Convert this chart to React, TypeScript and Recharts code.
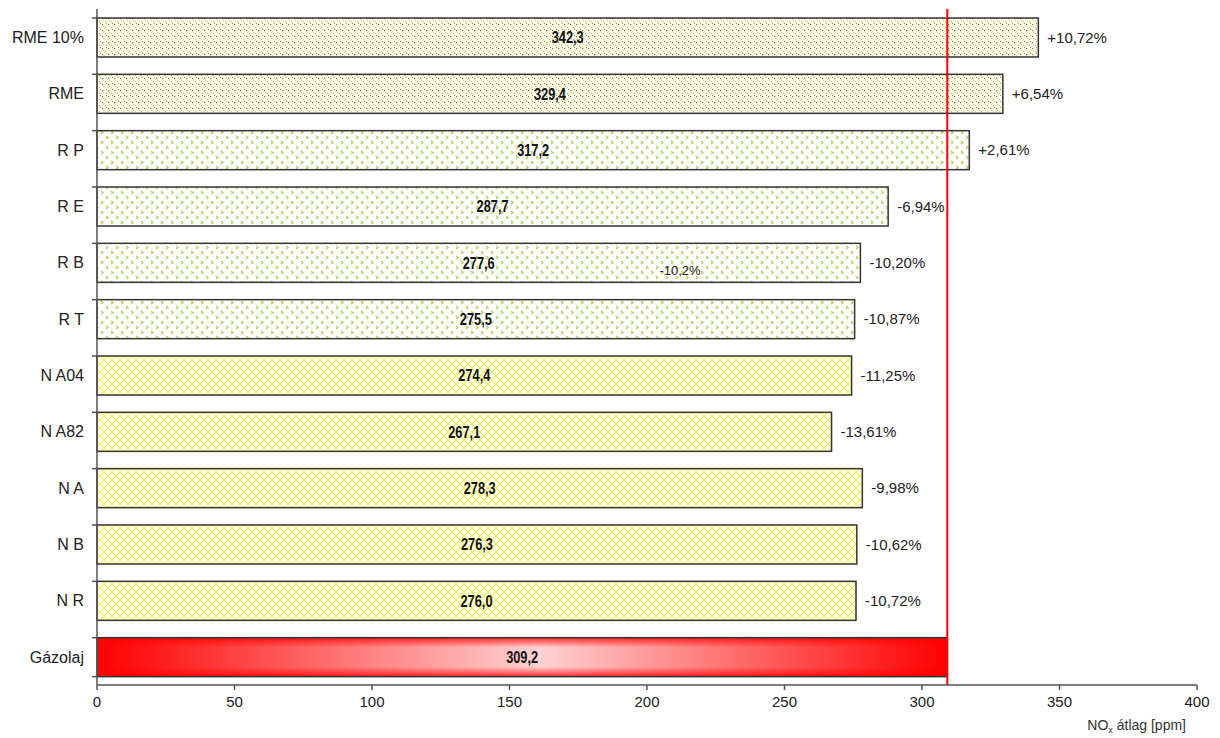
import { BarChart, Bar, XAxis, YAxis, Cell, LabelList, ReferenceLine, ReferenceDot } from "recharts";

const categories = ["RME 10%", "RME", "R P", "R E", "R B", "R T", "N A04", "N A82", "N A", "N B", "N R", "Gázolaj"];
const noxValues = [342.3, 329.4, 317.2, 287.7, 277.6, 275.5, 274.4, 267.1, 278.3, 276.3, 276.0, 309.2];
const changeLabels = ["+10,72%", "+6,54%", "+2,61%", "-6,94%", "-10,20%", "-10,87%", "-11,25%", "-13,61%", "-9,98%", "-10,62%", "-10,72%", ""];
const xTicks = [0, 50, 100, 150, 200, 250, 300, 350, 400];
const baseline = 309.2;
const note = { category: "R B", value: 212, text: "-10,2%" };

const data = categories.map((name, i) => ({ name, value: noxValues[i], change: changeLabels[i] }));

const FONT = "'Liberation Sans', Arial, sans-serif";

const fillFor = (name: string) => {
  if (name.startsWith("RME")) return "url(#dots)";
  if (name.startsWith("R ")) return "url(#chevrons)";
  if (name.startsWith("N ")) return "url(#hatch)";
  return "url(#redH)";
};

// bar rect, plus the little axis tick on the band boundary (Excel style)
const BarShape = (props: any) => {
  const { x, y, width, height, fill, payload, background, index } = props;
  const isBase = payload && payload.name === "Gázolaj";
  const band = background || { x, y, height };
  const last = index === categories.length - 1;
  return (
    <g>
      <rect x={x} y={y} width={width} height={height} fill={fill} />
      {isBase && <rect x={x} y={y} width={width} height={height} fill="url(#redV)" />}
      <rect x={x} y={y} width={width} height={height} fill="none" stroke="#333" strokeWidth={1.5} />
      <line x1={band.x - 5} x2={band.x} y1={band.y} y2={band.y} stroke="#555" strokeWidth={1.5} />
      {last && (
        <line x1={band.x - 5} x2={band.x} y1={band.y + band.height} y2={band.y + band.height} stroke="#555" strokeWidth={1.5} />
      )}
    </g>
  );
};

const ValueLabel = (props: any) => {
  const { x, y, width, height, value } = props;
  const cx = x + width / 2;
  const cy = y + height / 2;
  return (
    <text
      transform={`translate(${cx},${cy}) scale(0.8,1)`}
      textAnchor="middle"
      dy="0.355em"
      fontSize={16}
      fontWeight="bold"
      fill="#111"
      fontFamily={FONT}
    >
      {Number(value).toFixed(1).replace(".", ",")}
    </text>
  );
};

const AxisTitle = (props: any) => {
  const vb = props.viewBox || {};
  const right = vb.x + vb.width - 11;
  const y = vb.y + 45;
  return (
    <text x={right} y={y} textAnchor="end" fontSize={14} fill="#333" fontFamily={FONT}>
      NO<tspan fontSize={9} dy={3}>x</tspan>
      <tspan dy={-3}> átlag [ppm]</tspan>
    </text>
  );
};

export default function App() {
  return (
    <div style={{ position: "absolute", left: 0, top: 0, background: "#fff" }}>
      <BarChart
        width={1220}
        height={738}
        data={data}
        layout="vertical"
        margin={{ top: 9, right: 23, left: 0, bottom: 0 }}
        style={{ fontFamily: FONT }}
      >
        <defs>
          <pattern id="dots" width="6" height="6" patternUnits="userSpaceOnUse">
            <rect width="6" height="6" fill="#fffff0" />
            <rect x="0" y="0" width="1.2" height="1.2" fill="#7c7c20" />
            <rect x="3" y="3" width="1.2" height="1.2" fill="#b8c050" />
            <rect x="1" y="2" width="1" height="1" fill="#d0d480" />
            <rect x="4" y="5" width="1" height="1" fill="#9c9c3c" />
          </pattern>
          <pattern id="chevrons" width="10" height="10" patternUnits="userSpaceOnUse">
            <rect width="10" height="10" fill="#ffffff" />
            <path d="M1 1 L3 2.5 L1 4" stroke="#b0d458" strokeWidth="1.3" fill="none" />
            <path d="M6 6 L8 7.5 L6 9" stroke="#b0d458" strokeWidth="1.3" fill="none" />
          </pattern>
          <pattern id="hatch" width="8" height="8" patternUnits="userSpaceOnUse">
            <rect width="8" height="8" fill="#ffffe0" />
            <path d="M0 0 L8 8 M8 0 L0 8" stroke="#f4f050" strokeWidth="1" />
          </pattern>
          <linearGradient id="redH" x1="0" y1="0" x2="1" y2="0">
            <stop offset="0%" stopColor="#ff0000" />
            <stop offset="52%" stopColor="#ffe4e4" />
            <stop offset="100%" stopColor="#ff0000" />
          </linearGradient>
          <linearGradient id="redV" x1="0" y1="0" x2="0" y2="1">
            <stop offset="0%" stopColor="#ff0000" stopOpacity={0.8} />
            <stop offset="25%" stopColor="#ff0000" stopOpacity={0.08} />
            <stop offset="75%" stopColor="#ff0000" stopOpacity={0.08} />
            <stop offset="100%" stopColor="#ff0000" stopOpacity={0.8} />
          </linearGradient>
        </defs>
        <XAxis
          type="number"
          domain={[0, 400]}
          ticks={xTicks}
          interval={0}
          tickSize={5}
          tickMargin={6}
          axisLine={{ stroke: "#555", strokeWidth: 1.5 }}
          tickLine={{ stroke: "#555", strokeWidth: 1.5 }}
          tick={{ fontSize: 15, fill: "#222", fontFamily: FONT }}
          height={53}
          label={<AxisTitle />}
        />
        <YAxis
          type="category"
          dataKey="name"
          width={97}
          interval={0}
          axisLine={{ stroke: "#555", strokeWidth: 1.5 }}
          tickLine={false}
          tickSize={0}
          tickMargin={13}
          tick={{ fontSize: 16, fill: "#222", fontFamily: FONT }}
        />
        <Bar dataKey="value" barSize={39} isAnimationActive={false} shape={<BarShape />}>
          {data.map((d) => (
            <Cell key={d.name} fill={fillFor(d.name)} />
          ))}
          <LabelList dataKey="value" content={<ValueLabel />} />
          <LabelList
            dataKey="change"
            position="right"
            offset={9}
            style={{ fontSize: 15, fill: "#222", fontFamily: FONT }}
          />
        </Bar>
        <ReferenceLine x={baseline} stroke="#ff0000" strokeWidth={2} />
        <ReferenceDot
          x={note.value}
          y={note.category}
          r={0}
          fill="none"
          stroke="none"
          label={{ value: note.text, position: "center", dy: 8, fontSize: 13, fill: "#222", fontFamily: FONT }}
        />
      </BarChart>
    </div>
  );
}
